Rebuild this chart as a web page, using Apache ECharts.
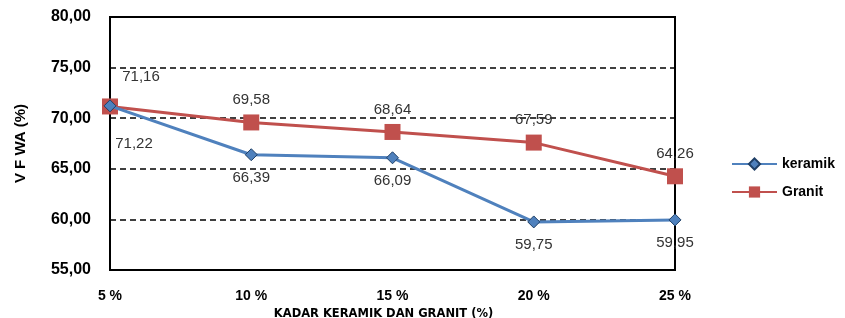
<!DOCTYPE html>
<html><head><meta charset="utf-8">
<script src="https://cdn.jsdelivr.net/npm/echarts@6/dist/echarts.min.js"></script>
<style>html,body{margin:0;padding:0;background:#fff}#c{width:845px;height:318px}</style>
</head><body><div id="c"></div>
<script>
var categories = ['5 %', '10 %', '15 %', '20 %', '25 %'];
var keramik = [71.22, 66.39, 66.09, 59.75, 59.95];
var granit = [71.16, 69.58, 68.64, 67.59, 64.26];
var yTicks = [55, 60, 65, 70, 75, 80];

function fmt(v){ return v.toFixed(2).replace('.', ','); }

var labelFont = {fontFamily: 'Liberation Sans, Arial', fontSize: 15, color: '#333'};

var kData = keramik.map(function(v, i){
  var item = {value: v};
  if (i === 0) item.label = {position: 'bottom', distance: 24, offset: [24, 0]};
  return item;
});
var gData = granit.map(function(v, i){
  var item = {value: v};
  if (i === 0) item.label = {position: 'top', distance: 14, offset: [31, 0]};
  return item;
});

var chart = echarts.init(document.getElementById('c'));
chart.setOption({
  animation: false,
  grid: {left: 110, right: 170, top: 17, bottom: 48, show: true, borderColor: '#000', borderWidth: 2, backgroundColor: 'transparent', containLabel: false, outerBoundsMode: 'none'},
  legend: {
    orient: 'vertical', left: 726, top: 152, itemWidth: 45, itemHeight: 14, itemGap: 14,
    textStyle: {fontFamily: 'Liberation Sans, Arial', fontSize: 14, fontWeight: 'bold', color: '#000'},
    data: ['keramik', 'Granit']
  },
  xAxis: {
    type: 'category', data: categories, boundaryGap: false,
    axisLine: {lineStyle: {color: '#000', width: 2}},
    axisTick: {show: false},
    axisLabel: {fontFamily: 'Liberation Sans, Arial', fontSize: 14, fontWeight: 'bold', color: '#000', margin: 19},
    name: 'KADAR KERAMIK DAN GRANIT (%)', nameLocation: 'middle', nameGap: 33,
    nameTextStyle: {fontFamily: 'DejaVu Sans', fontSize: 11.5, fontWeight: 'bold', color: '#000', padding: [0, 18, 0, 0]}
  },
  yAxis: {
    type: 'value', min: yTicks[0], max: yTicks[yTicks.length-1], interval: 5,
    axisLine: {show: true, lineStyle: {color: '#000', width: 2}},
    axisTick: {show: false},
    axisLabel: {fontFamily: 'Liberation Sans, Arial', fontSize: 16, fontWeight: 'bold', color: '#000', margin: 19,
      formatter: function(v){ return fmt(v); }},
    splitLine: {show: true, lineStyle: {color: '#000', type: [6, 4], width: 1.5}},
    name: 'V F WA (%)', nameLocation: 'middle', nameGap: 82,
    nameTextStyle: {fontFamily: 'Liberation Sans, Arial', fontSize: 15, fontWeight: 'bold', color: '#000'}
  },
  series: [
    {
      name: 'keramik', type: 'line', data: kData, z: 3,
      symbol: 'diamond', symbolSize: 12,
      lineStyle: {color: '#4F81BD', width: 3},
      itemStyle: {color: '#4F81BD', borderColor: '#1F3F66', borderWidth: 1},
      label: Object.assign({show: true, position: 'bottom', distance: 9, formatter: function(p){ return fmt(p.value); }}, labelFont)
    },
    {
      name: 'Granit', type: 'line', data: gData, z: 2,
      symbol: 'rect', symbolSize: 16,
      lineStyle: {color: '#C0504D', width: 3},
      itemStyle: {color: '#C0504D'},
      label: Object.assign({show: true, position: 'top', distance: 7, formatter: function(p){ return fmt(p.value); }}, labelFont)
    }
  ]
});
</script>
</body></html>
